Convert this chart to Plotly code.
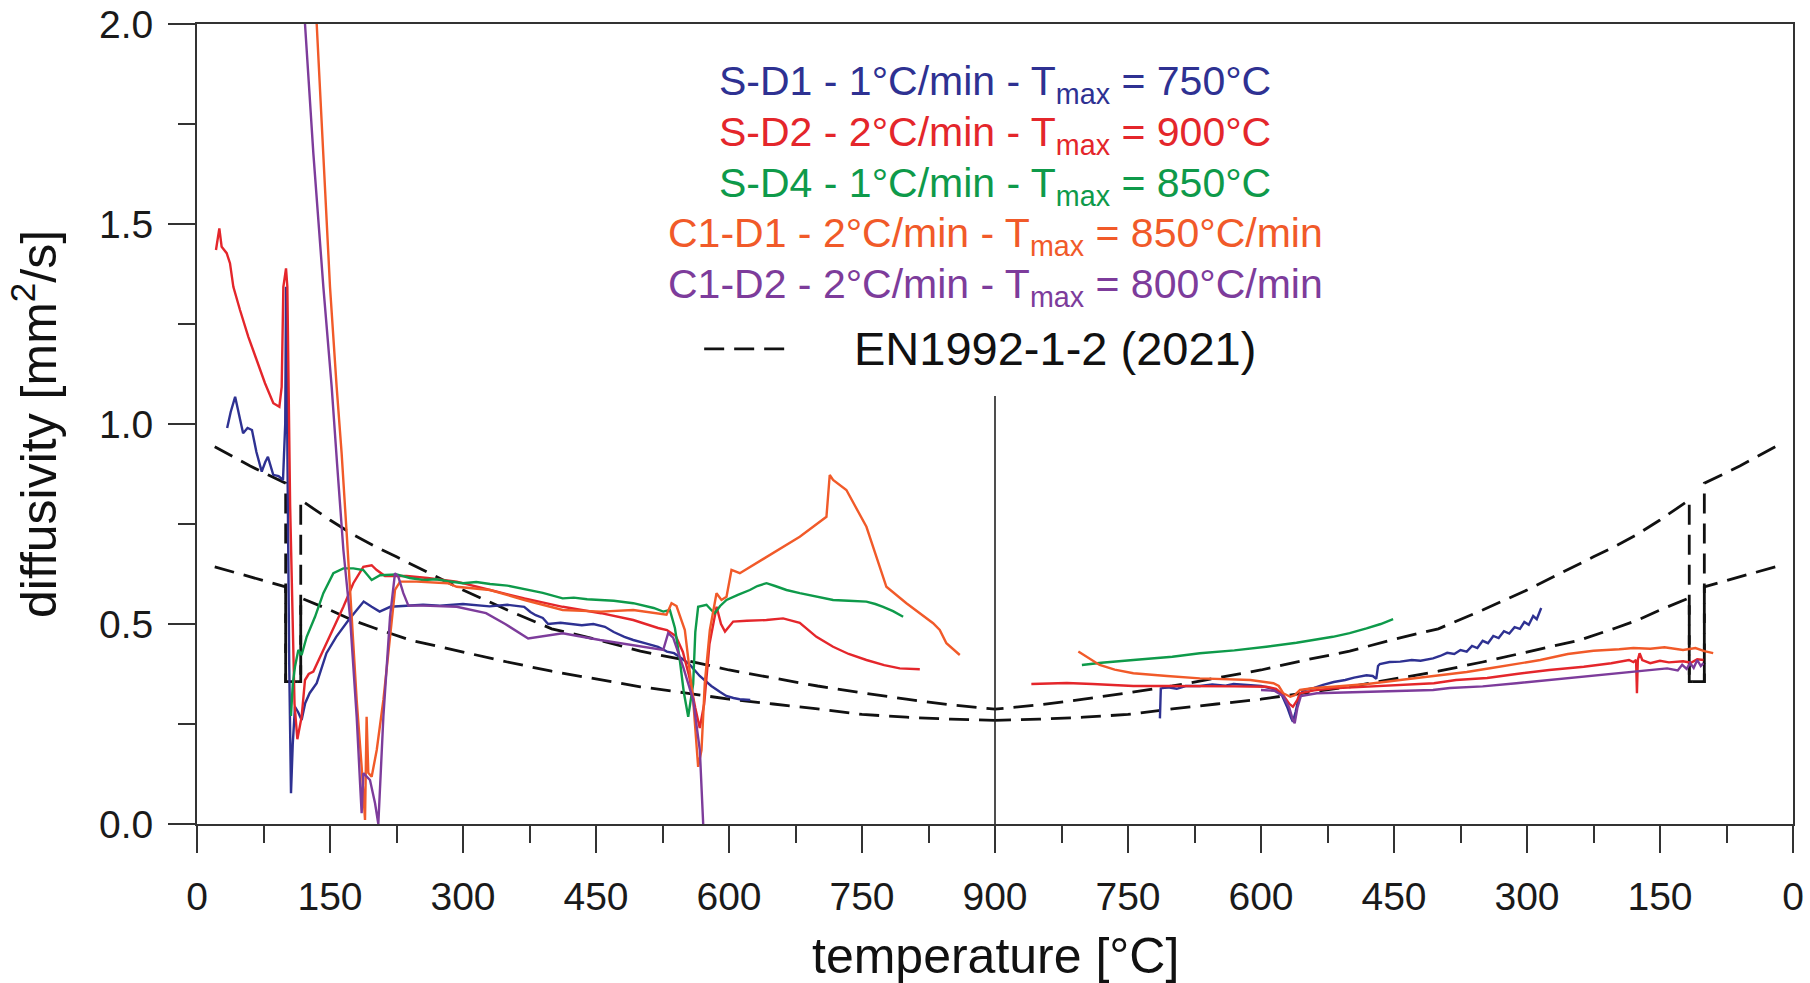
import plotly.graph_objects as go

# ---------------- data (temperature in °C, diffusivity in mm²/s) ----------------
TURN = 900  # heating goes 0 -> 900, cooling drawn back from 900 -> 0

tick_positions = [0, 150, 300, 450, 600, 750, 900, 1050, 1200, 1350, 1500, 1650, 1800]
tick_labels = ["0", "150", "300", "450", "600", "750", "900", "750", "600", "450", "300", "150", "0"]
minor_positions = [75, 225, 375, 525, 675, 825, 975, 1125, 1275, 1425, 1575, 1725]
y_ticks = [0, 0.5, 1.0, 1.5, 2.0]
y_labels = ["0.0", "0.5", "1.0", "1.5", "2.0"]
y_minor = [0.25, 0.75, 1.25, 1.75]

sd1_heating = [(34, 0.99), (38, 1.03), (43, 1.068), (47, 1.03), (52, 0.977), (57, 0.99), (62, 0.985),
               (67, 0.93), (73, 0.881), (77, 0.905), (80, 0.918), (86, 0.873), (92, 0.87), (97, 0.86),
               (99.5, 1.0), (100.4, 1.343), (102, 0.9), (104, 0.4), (106, 0.077), (108, 0.2), (110.5, 0.293),
               (114, 0.28), (118, 0.26), (122, 0.302), (127, 0.327), (135, 0.352), (146, 0.427), (157, 0.468),
               (171, 0.51), (180, 0.535), (188, 0.556), (197, 0.543), (206, 0.531), (218, 0.543), (236, 0.546),
               (255, 0.548), (274, 0.546), (300, 0.55), (330, 0.544), (350, 0.548), (369, 0.543), (376, 0.53),
               (382, 0.522), (390, 0.515), (396, 0.5), (410, 0.503), (434, 0.497), (447, 0.5), (460, 0.493),
               (470, 0.48), (482, 0.468), (492, 0.46), (505, 0.452), (520, 0.443), (530, 0.431), (538, 0.427),
               (546, 0.415), (555, 0.4), (567, 0.37), (580, 0.345), (590, 0.33), (597, 0.32), (605, 0.315),
               (612, 0.312), (624, 0.31)]
sd1_cooling = [(714, 0.264), (713, 0.339), (705, 0.342), (695, 0.338), (685, 0.345), (669, 0.345), (655, 0.349),
               (640, 0.346), (631, 0.35), (615, 0.347), (600, 0.345), (590, 0.34), (582, 0.335), (576, 0.32),
               (570, 0.29), (566, 0.265), (564, 0.256), (561, 0.28), (557, 0.32), (552, 0.335), (540, 0.34),
               (530, 0.348), (518, 0.355), (505, 0.36), (495, 0.366), (481, 0.372), (474, 0.37), (470, 0.363),
               (468, 0.395), (466, 0.4), (455, 0.405), (443, 0.406), (430, 0.41), (420, 0.408), (406, 0.414),
               (398, 0.42), (390, 0.428), (382, 0.425), (375, 0.435), (368, 0.431), (362, 0.445), (356, 0.44),
               (350, 0.458), (344, 0.452), (338, 0.47), (332, 0.465), (326, 0.482), (320, 0.476), (314, 0.492),
               (308, 0.488), (303, 0.505), (298, 0.498), (293, 0.52), (289, 0.512), (285, 0.533), (284, 0.54)]

sd2_heating = [(21.4, 1.435), (25.2, 1.489), (27.8, 1.443), (33.5, 1.427), (37.2, 1.402), (41, 1.343),
               (48.5, 1.285), (57.9, 1.218), (67.3, 1.16), (76.7, 1.102), (86.1, 1.052), (92.9, 1.043),
               (95.5, 1.093), (97.4, 1.343), (100.4, 1.389), (101.9, 1.343), (105, 0.8), (110, 0.3),
               (113.2, 0.212), (118, 0.268), (121.8, 0.36), (126, 0.375), (131.2, 0.381), (142.5, 0.435),
               (153.8, 0.493), (165.1, 0.543), (176.3, 0.602), (187.6, 0.643), (197, 0.647), (202.7, 0.635),
               (212, 0.62), (236.5, 0.62), (260, 0.615), (292.9, 0.606), (330.5, 0.585), (369.3, 0.564),
               (412.4, 0.543), (455.6, 0.527), (492, 0.51), (520, 0.49), (530, 0.485), (540, 0.47), (548, 0.43),
               (555, 0.37), (562, 0.29), (567, 0.24), (572, 0.3), (578, 0.45), (586, 0.543), (591, 0.5),
               (595.5, 0.481), (604.7, 0.506), (620, 0.508), (642.2, 0.51), (661, 0.514), (679.8, 0.503),
               (698.6, 0.468), (717.4, 0.443), (735, 0.425), (755, 0.41), (775, 0.397), (792.6, 0.389),
               (815.2, 0.387)]
sd2_cooling = [(859, 0.35), (840, 0.352), (819, 0.3525), (790, 0.35), (744, 0.345), (700, 0.345), (669, 0.345),
               (630, 0.344), (594, 0.343), (583, 0.338), (575, 0.3225), (568, 0.3), (564, 0.293), (559, 0.31),
               (556, 0.327), (540, 0.334), (519, 0.339), (480, 0.343), (443, 0.3475), (405, 0.352), (380, 0.36),
               (345, 0.365), (312, 0.375), (275, 0.385), (236, 0.393), (205, 0.402), (185, 0.41), (180, 0.405),
               (177, 0.41), (176, 0.327), (175, 0.41), (173, 0.427), (170, 0.41), (161, 0.402), (150, 0.408),
               (140, 0.404), (124, 0.407), (115, 0.403), (108, 0.412), (101, 0.41)]

sd4_heating = [(106, 0.27), (108, 0.35), (110.5, 0.393), (114.3, 0.435), (118, 0.4225), (123.7, 0.468),
               (133.1, 0.518), (142.5, 0.577), (153.8, 0.627), (165.1, 0.639), (176.3, 0.639), (187.6, 0.635),
               (197, 0.61), (206.4, 0.622), (225.2, 0.624), (240, 0.615), (255.3, 0.61), (270, 0.612),
               (283, 0.607), (300, 0.602), (315, 0.605), (330.5, 0.6), (350, 0.596), (369.3, 0.588), (390, 0.578),
               (412.4, 0.564), (425, 0.566), (440, 0.562), (455.6, 0.56), (470, 0.558), (492, 0.552), (505, 0.545),
               (515, 0.54), (525.8, 0.531), (533.3, 0.535), (539, 0.49), (544.5, 0.41), (549, 0.33), (554, 0.268),
               (559.6, 0.35), (562, 0.48), (565.2, 0.543), (574.6, 0.548), (580, 0.535), (584, 0.527), (590, 0.545),
               (597.2, 0.56), (610, 0.573), (623.5, 0.585), (632, 0.595), (642.3, 0.602), (652, 0.595),
               (664.8, 0.585), (679.8, 0.577), (700, 0.568), (717.4, 0.56), (735, 0.558), (755, 0.556),
               (765, 0.55), (773.8, 0.543), (785, 0.532), (796.4, 0.518)]
sd4_cooling = [(802, 0.3975), (780, 0.403), (744, 0.41), (700, 0.418), (669, 0.427), (630, 0.434), (594, 0.443),
               (560, 0.453), (519, 0.468), (500, 0.477), (481, 0.489), (465, 0.5), (451, 0.512)]

c1d1_heating = [(135, 2.0), (142.5, 1.677), (150, 1.343), (157.5, 1.093), (163.1, 0.927), (168.8, 0.727),
                (174.4, 0.518), (180.1, 0.31), (185.7, 0.143), (189.5, 0.01), (191.3, 0.268), (193.2, 0.128),
                (197, 0.118), (202.7, 0.185), (210.2, 0.31), (217.7, 0.477), (223.3, 0.585), (229, 0.606),
                (247.8, 0.606), (283, 0.602), (292.9, 0.593), (330.5, 0.585), (369.3, 0.56), (412.4, 0.535),
                (455.6, 0.531), (492, 0.535), (529.5, 0.523), (535.2, 0.552), (540.8, 0.545), (550.2, 0.485),
                (559.6, 0.31), (565.2, 0.143), (569, 0.185), (572.7, 0.352), (578.4, 0.485), (585.9, 0.577),
                (591.5, 0.56), (597.2, 0.568), (602.8, 0.635), (612.2, 0.627), (642.3, 0.668), (679.8, 0.718),
                (709.9, 0.768), (713.6, 0.8725), (717.4, 0.86), (732.4, 0.835), (755, 0.743), (777.5, 0.593),
                (800.1, 0.552), (830.2, 0.502), (837.7, 0.485), (845.2, 0.452), (860.3, 0.4225)]
c1d1_cooling = [(806, 0.431), (795, 0.415), (782, 0.3975), (765, 0.386), (744, 0.377), (706, 0.37), (669, 0.364),
                (612, 0.36), (586, 0.352), (580, 0.345), (575, 0.327), (567, 0.318), (562, 0.322), (556, 0.335),
                (540, 0.34), (519, 0.343), (480, 0.35), (443, 0.36), (400, 0.372), (368, 0.38), (340, 0.39),
                (312, 0.4), (285, 0.41), (254, 0.425), (225, 0.433), (196, 0.437), (180, 0.44), (161, 0.438),
                (145, 0.442), (124, 0.435), (110, 0.44), (100, 0.432), (90, 0.427)]

c1d2_heating = [(121.8, 2.0), (131.2, 1.677), (142.5, 1.343), (151.9, 1.093), (158, 0.9), (165.1, 0.685),
                (172.6, 0.518), (180.1, 0.268), (183.9, 0.102), (185.7, 0.027), (187.6, 0.127), (192.2, 0.118),
                (195.1, 0.11), (200.8, 0.052), (204.5, 0.0), (210.2, 0.268), (217.7, 0.518), (223.3, 0.627),
                (227.1, 0.618), (232.7, 0.577), (238.4, 0.546), (255.3, 0.546), (283, 0.543), (292.9, 0.543),
                (326, 0.527), (347.6, 0.5), (373.5, 0.464), (412.4, 0.477), (454.5, 0.46), (477.1, 0.452),
                (492, 0.4475), (525.8, 0.435), (531.4, 0.477), (537, 0.466), (548.3, 0.393), (559.6, 0.31),
                (567.1, 0.185), (570.9, 0.0)]
c1d2_cooling = [(600, 0.335), (585, 0.333), (575, 0.32), (568, 0.29), (564, 0.26), (562, 0.252), (559, 0.29),
                (555, 0.32), (537, 0.327), (481, 0.331), (443, 0.333), (406, 0.335), (387, 0.34), (350, 0.344),
                (312, 0.352), (275, 0.36), (236, 0.368), (205, 0.374), (180, 0.381), (160, 0.385), (142, 0.389),
                (130, 0.384), (125, 0.398), (120, 0.388), (116, 0.402), (112, 0.39), (108, 0.41), (104, 0.395),
                (101, 0.402)]

en_upper = [(20, 0.943), (40, 0.918), (60, 0.895), (80, 0.873), (100, 0.852), (100, 0.356), (117, 0.356),
            (117, 0.81), (130, 0.79), (150, 0.76), (175, 0.725), (200, 0.695), (225, 0.668), (250, 0.64),
            (283, 0.602), (300, 0.585), (350, 0.535), (400, 0.488), (450, 0.462), (500, 0.432), (550, 0.41),
            (600, 0.385), (650, 0.365), (700, 0.345), (750, 0.328), (800, 0.312), (850, 0.298), (900, 0.287)]
en_lower = [(20, 0.643), (60, 0.618), (100, 0.593), (100, 0.356), (117, 0.356), (117, 0.565), (150, 0.535),
            (175, 0.51), (200, 0.49), (240, 0.46), (280, 0.44), (300, 0.43), (350, 0.405), (400, 0.382),
            (450, 0.362), (500, 0.343), (550, 0.328), (600, 0.312), (650, 0.3), (700, 0.288), (750, 0.274),
            (800, 0.267), (850, 0.262), (900, 0.259)]

divider_top = 1.07

series = [
    ("S-D1 - 1°C/min - T<sub>max</sub> = 750°C", "#2e3192", sd1_heating, sd1_cooling),
    ("S-D2 - 2°C/min - T<sub>max</sub> = 900°C", "#e4262b", sd2_heating, sd2_cooling),
    ("S-D4 - 1°C/min - T<sub>max</sub> = 850°C", "#0e9a4a", sd4_heating, sd4_cooling),
    ("C1-D1 - 2°C/min - T<sub>max</sub> = 850°C/min", "#f15a29", c1d1_heating, c1d1_cooling),
    ("C1-D2 - 2°C/min - T<sub>max</sub> = 800°C/min", "#7d3c9b", c1d2_heating, c1d2_cooling),
]
legend_rows_y = [1.85, 1.723, 1.596, 1.469, 1.342]
en_label = "EN1992-1-2 (2021)"
en_sample_x = [572, 672]
en_label_x = 968
en_row_y = 1.188


def fold(temps):
    return [2 * TURN - t for t in temps]


FONT = "Liberation Sans, Arial, sans-serif"
fig = go.Figure()

# EN 1992 curves (heating side and mirrored cooling side)
for curve in (en_upper, en_lower):
    T = [p[0] for p in curve]
    a = [p[1] for p in curve]
    for xs in (T, fold(T)):
        fig.add_trace(go.Scatter(x=xs, y=a, mode="lines", showlegend=False, hoverinfo="skip",
                                 line=dict(color="#111111", width=2.8, dash="20px,10px")))

# measured curves
for name, color, heat, cool in series:
    fig.add_trace(go.Scatter(x=[p[0] for p in heat], y=[p[1] for p in heat], mode="lines",
                             showlegend=False, line=dict(color=color, width=2.4)))
    fig.add_trace(go.Scatter(x=fold([p[0] for p in cool]), y=[p[1] for p in cool], mode="lines",
                             showlegend=False, line=dict(color=color, width=2.4)))

# divider at the maximum temperature
fig.add_trace(go.Scatter(x=[TURN, TURN], y=[0, divider_top], mode="lines", showlegend=False,
                         hoverinfo="skip", line=dict(color="#222222", width=1.6)))

annotations = []
for (name, color, _, _), yy in zip(series, legend_rows_y):
    annotations.append(dict(x=TURN, y=yy, xref="x", yref="y", text=name, showarrow=False,
                            xanchor="center", yanchor="middle", font=dict(family=FONT, size=41, color=color)))
annotations.append(dict(x=en_label_x, y=en_row_y, xref="x", yref="y", text=en_label, showarrow=False,
                        xanchor="center", yanchor="middle", font=dict(family=FONT, size=47, color="#111111")))
annotations.append(dict(x=0.5, y=-0.165, xref="paper", yref="paper", text="temperature [°C]", showarrow=False,
                        xanchor="center", yanchor="middle", font=dict(family=FONT, size=50, color="#111111")))
annotations.append(dict(x=-0.1015, y=0.5, xref="paper", yref="paper", text="diffusivity [mm<sup>2</sup>/s]",
                        showarrow=False, textangle=-90, xanchor="center", yanchor="middle",
                        font=dict(family=FONT, size=50, color="#111111")))

fig.add_shape(type="line", x0=en_sample_x[0], x1=en_sample_x[1], y0=en_row_y, y1=en_row_y, xref="x", yref="y",
              line=dict(color="#111111", width=2.8, dash="20px,10px"))

axis_common = dict(showgrid=False, zeroline=False, showline=True, linecolor="#333333", linewidth=2,
                   mirror=True, ticks="outside", ticklen=27, tickwidth=2, tickcolor="#333333",
                   tickfont=dict(family=FONT, size=39, color="#1a1a1a"), automargin=False,
                   ticklabeloverflow="allow")

fig.update_layout(
    width=1810, height=983,
    margin=dict(l=197, r=17, t=24, b=159),
    paper_bgcolor="white", plot_bgcolor="white",
    font=dict(family=FONT),
    xaxis=dict(range=[0, 2 * TURN], tickmode="array", tickvals=tick_positions, ticktext=tick_labels,
               ticklabelstandoff=10,
               minor=dict(tickmode="array", tickvals=minor_positions, ticks="outside", ticklen=17,
                          tickwidth=2, tickcolor="#333333"),
               **axis_common),
    yaxis=dict(range=[0, 2], tickmode="array", tickvals=y_ticks, ticktext=y_labels,
               ticklabelstandoff=7,
               minor=dict(tickmode="array", tickvals=y_minor, ticks="outside", ticklen=17,
                          tickwidth=2, tickcolor="#333333"),
               **axis_common),
    annotations=annotations,
    showlegend=False,
)

fig.write_html("out.html", config={"displayModeBar": False},
               post_script="document.body.style.margin='0px';document.body.style.overflow='hidden';")
